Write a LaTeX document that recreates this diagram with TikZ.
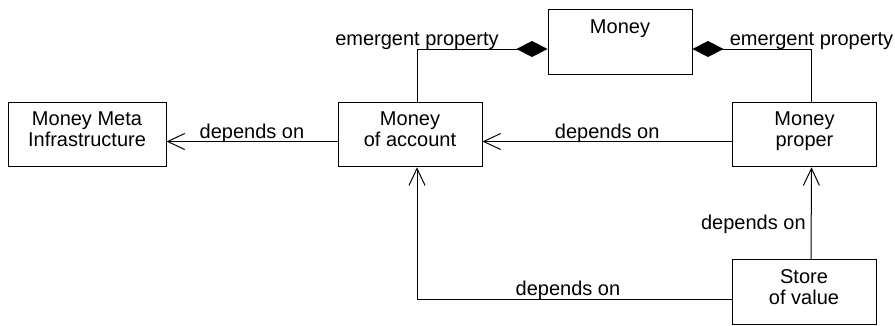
\documentclass[tikz,border=0pt]{standalone}
\usepackage{fontspec}
\setmainfont{Liberation Sans}
\usetikzlibrary{arrows.meta}
\begin{document}
\begin{tikzpicture}[x = 1pt, y = -1pt, line width = 1pt,
  every node/.style = {font = \fontsize{20pt}{21pt}\selectfont},
  box/.style = {draw = black, align = center, inner xsep = 4pt, inner ysep = 9pt, text height = 14.5pt, text depth = 32pt, minimum width = 144pt},
  twoline/.style = {text height = 35.5pt, text depth = 11pt},
  lbl/.style = {anchor = base, inner sep = 0pt, yshift = 3.5pt},
  dep/.style = {-{Straight Barb[length = 17pt, width = 16pt]}},
  comp/.style = {{Diamond[length = 31pt, width = 16pt]}-}]
\useasboundingbox (0,0) rectangle (895,325);
\pgfmathsetlengthmacro\off{7};
\node[box, twoline, minimum width = 158pt] (meta) at (87,134.5) {Money Meta\\Infrastructure};
\node[box, twoline] (account) at (410,134.5) {Money\\of account};
\node[box, twoline] (proper) at (804.5,134.5) {Money\\proper};
\node[box] (money) at (620,42) {Money};
\node[box, twoline] (store) at (804,292) {Store\\of value};
\draw[comp] ([yshift = -\off]money.west) -| node[lbl, pos = 0.5] {emergent property} ([xshift = \off]account.north);
\draw[comp] ([yshift = -\off]money.east) -| node[lbl, pos = 0.5] {emergent property} ([xshift = \off]proper.north);
\draw[dep] ([yshift = -\off]account.west) -- node[lbl] {depends on} ([yshift = -\off]meta.east);
\draw[dep] ([yshift = -\off]proper.west) -- node[lbl] {depends on} ([yshift = -\off]account.east);
\draw[dep] ([xshift = \off]store.north) -- node[anchor = base east, inner sep = 0pt, xshift = -5pt, pos = 0.32] {depends on} ([xshift = \off]proper.south);
\draw[dep] ([yshift = -\off]store.west) -| node[lbl, pos = 0.26] {depends on} ([xshift = \off]account.south);
\end{tikzpicture}
\end{document}
